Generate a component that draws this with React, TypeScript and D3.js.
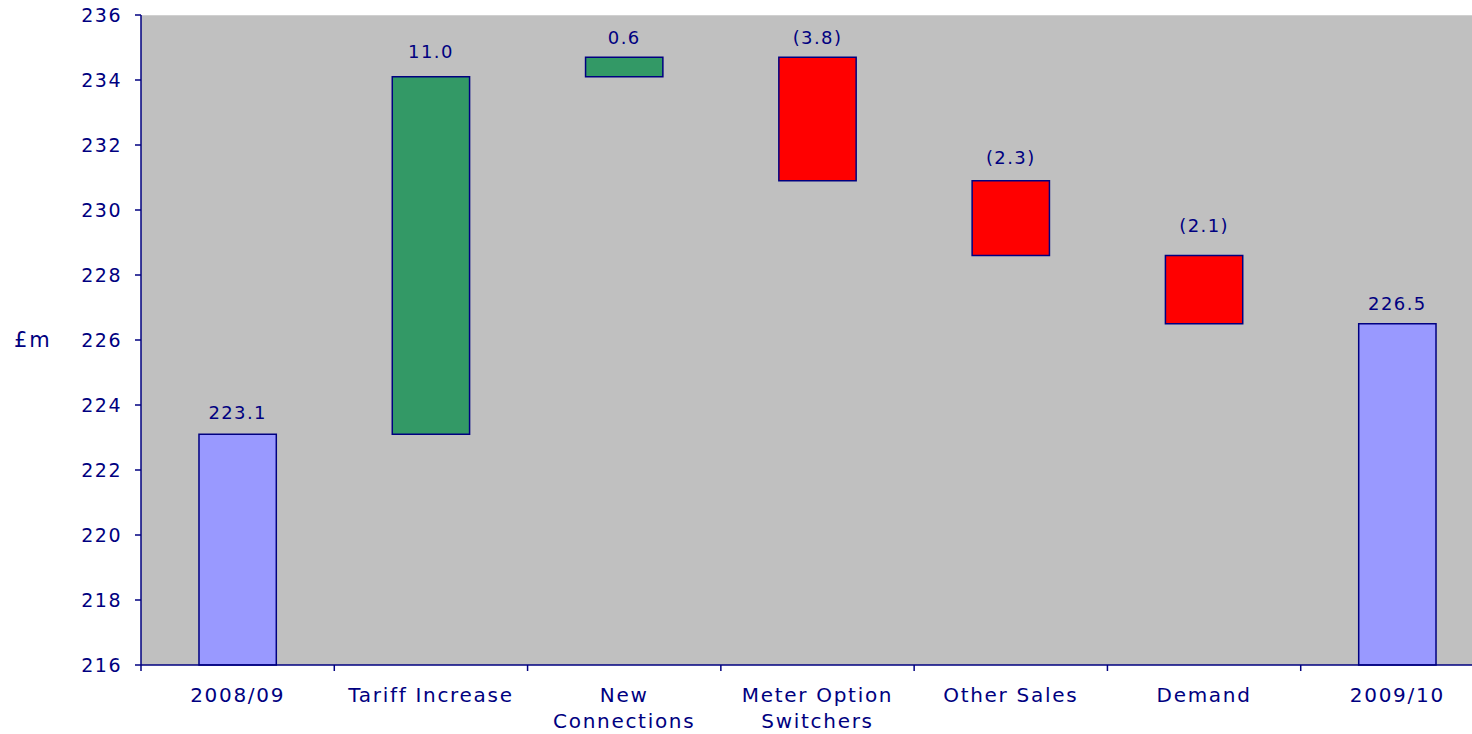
import React from "react";
import * as d3 from "d3";

const categories: string[][] = [
  ["2008/09"],
  ["Tariff Increase"],
  ["New", "Connections"],
  ["Meter Option", "Switchers"],
  ["Other Sales"],
  ["Demand"],
  ["2009/10"],
];
const changes: number[] = [223.1, 11.0, 0.6, -3.8, -2.3, -2.1, 226.5];
const kinds: string[] = ["total", "delta", "delta", "delta", "delta", "delta", "total"];
const yTicks: number[] = [216, 218, 220, 222, 224, 226, 228, 230, 232, 234, 236];
// gap (px) between each bar's top and its value label baseline (style only)
const labelGaps: number[] = [15.5, 18.5, 13.5, 13.5, 16.5, 24, 13.5];

const W = 1472;
const H = 734;
const NAVY = "#000080";
const FONT = "'DejaVu Sans', Verdana, sans-serif";

export default function App() {
  const left = 141;
  const top = 15;
  const bottom = 665;
  const right = 1494;

  const keys = categories.map((c) => c.join(" "));
  const x = d3.scaleBand<string>().domain(keys).range([left, right]).paddingInner(0.6).paddingOuter(0.3);
  const step = x.step();
  const y = d3.scaleLinear().domain([216, 236]).range([bottom, top]);

  let running = 0;
  const bars = changes.map((v, i) => {
    let lo: number, hi: number, color: string, label: string;
    if (kinds[i] === "total") {
      lo = 216;
      hi = v;
      running = v;
      color = "#9999FF";
      label = v.toFixed(1);
    } else {
      const start = running;
      const end = running + v;
      running = end;
      lo = Math.min(start, end);
      hi = Math.max(start, end);
      color = v >= 0 ? "#339966" : "#FF0000";
      label = v >= 0 ? v.toFixed(1) : `(${Math.abs(v).toFixed(1)})`;
    }
    return { key: keys[i], lo, hi, color, label, gap: labelGaps[i] };
  });

  const boundaries = d3.range(keys.length + 1).map((i) => left + i * step);

  return (
    <svg
      width={W}
      height={H}
      style={{ position: "absolute", left: 0, top: 0, display: "block" }}
      fontFamily={FONT}
    >
      <rect x={0} y={0} width={W} height={H} fill="#ffffff" />
      <rect x={left} y={top} width={right - left} height={bottom - top} fill="#C0C0C0" />
      <line x1={left} x2={right} y1={top + 0.5} y2={top + 0.5} stroke="#d0d0d0" strokeWidth={1} />

      {bars.map((b) => (
        <g key={b.key}>
          <rect
            x={x(b.key)!}
            y={y(b.hi)}
            width={x.bandwidth()}
            height={y(b.lo) - y(b.hi)}
            fill={b.color}
            stroke={NAVY}
            strokeWidth={1.5}
          />
          <text
            x={x(b.key)! + x.bandwidth() / 2}
            y={y(b.hi) - b.gap}
            textAnchor="middle"
            fontSize={18}
            letterSpacing={1.4}
            fill={NAVY}
          >
            {b.label}
          </text>
        </g>
      ))}

      {/* y axis */}
      <line x1={left} x2={left} y1={top} y2={bottom} stroke={NAVY} strokeWidth={1.5} />
      {yTicks.map((t) => (
        <g key={t}>
          <line x1={left - 6} x2={left} y1={y(t)} y2={y(t)} stroke={NAVY} strokeWidth={1.5} />
          <text x={122} y={y(t) + 7} textAnchor="end" fontSize={19} letterSpacing={1.5} fill={NAVY}>
            {t}
          </text>
        </g>
      ))}
      <text x={14} y={347} fontSize={21} letterSpacing={2} fill={NAVY}>
        £m
      </text>

      {/* x axis */}
      <line x1={left} x2={right} y1={bottom} y2={bottom} stroke={NAVY} strokeWidth={1.5} />
      {boundaries.map((bx, i) => (
        <line key={i} x1={bx} x2={bx} y1={bottom} y2={bottom + 6} stroke={NAVY} strokeWidth={1.5} />
      ))}
      {categories.map((lines, i) => (
        <text
          key={keys[i]}
          x={x(keys[i])! + x.bandwidth() / 2}
          y={702}
          textAnchor="middle"
          fontSize={20}
          letterSpacing={1.7}
          fill={NAVY}
        >
          {lines.map((l, j) => (
            <tspan key={j} x={x(keys[i])! + x.bandwidth() / 2} dy={j === 0 ? 0 : 26}>
              {l}
            </tspan>
          ))}
        </text>
      ))}
    </svg>
  );
}
